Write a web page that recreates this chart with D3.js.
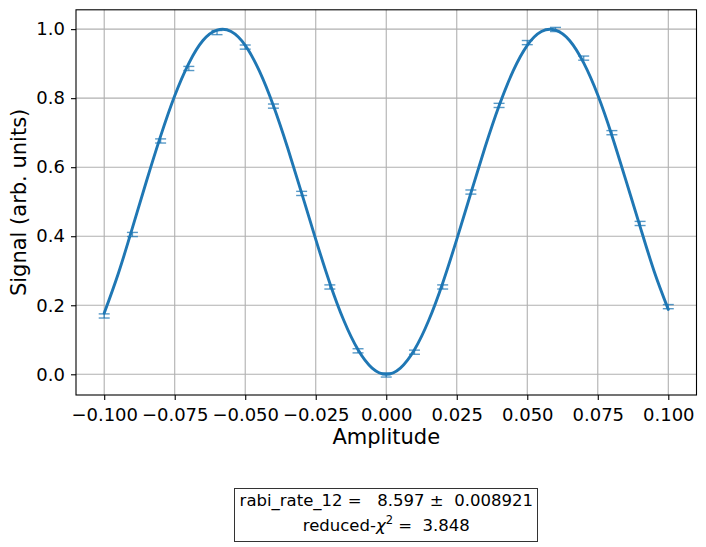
<!DOCTYPE html>
<html>
<head>
<meta charset="utf-8">
<script src="https://cdn.jsdelivr.net/npm/d3@7"></script>
<style>
  html, body { margin: 0; padding: 0; background: #fff; }
  svg { display: block; font-family: "DejaVu Sans", sans-serif; }
  text { white-space: pre; }
</style>
</head>
<body>
<svg id="chart" width="706" height="547"></svg>
<script>
// Measured data points (amplitude, signal, error)
const amplitudes = [-0.10, -0.09, -0.08, -0.07, -0.06, -0.05, -0.04, -0.03, -0.02, -0.01,
                    0.00, 0.01, 0.02, 0.03, 0.04, 0.05, 0.06, 0.07, 0.08, 0.09, 0.10];
const signals = [0.169, 0.405, 0.676, 0.886, 0.990, 0.948, 0.777, 0.524, 0.253, 0.068,
                 -0.002, 0.064, 0.253, 0.528, 0.779, 0.961, 0.999, 0.916, 0.700, 0.437, 0.196];
const errors = [0.006, 0.006, 0.006, 0.006, 0.006, 0.006, 0.006, 0.006, 0.006, 0.006,
                0.006, 0.006, 0.006, 0.006, 0.006, 0.006, 0.006, 0.006, 0.006, 0.006, 0.006];

// Fit curve samples
const fitX = [-0.100, -0.095, -0.090, -0.085, -0.080, -0.075, -0.070, -0.065, -0.060, -0.055,
              -0.050, -0.045, -0.040, -0.035, -0.030, -0.025, -0.020, -0.015, -0.010, -0.005,
              0.000, 0.005, 0.010, 0.015, 0.020, 0.025, 0.030, 0.035, 0.040, 0.045,
              0.050, 0.055, 0.060, 0.065, 0.070, 0.075, 0.080, 0.085, 0.090, 0.095, 0.100];
const fitY = [0.177, 0.292, 0.424, 0.560, 0.690, 0.807, 0.901, 0.967, 0.997, 0.993,
              0.953, 0.879, 0.778, 0.657, 0.525, 0.391, 0.264, 0.155, 0.071, 0.018,
              0.000, 0.018, 0.071, 0.155, 0.264, 0.391, 0.525, 0.657, 0.778, 0.879,
              0.953, 0.993, 0.997, 0.967, 0.902, 0.809, 0.692, 0.561, 0.428, 0.298, 0.188];

const xTicks = [-0.100, -0.075, -0.050, -0.025, 0.000, 0.025, 0.050, 0.075, 0.100];
const yTicks = [0.0, 0.2, 0.4, 0.6, 0.8, 1.0];

const xLabel = "Amplitude";
const yLabel = "Signal (arb. units)";
const fitLine1 = "rabi_rate_12 =   8.597 \u00B1  0.008921";

const blue = "#1f77b4";
const tickFont = 18;
const svg = d3.select("#chart");

const x = d3.scaleLinear().domain([-0.11, 0.11]).range([76, 696.5]);
const y = d3.scaleLinear().domain([-0.06, 1.056]).range([395, 9.8]);

const fmtX = d => d3.format(".3f")(d);

// grid
const grid = svg.append("g");
grid.selectAll("line.gx").data(xTicks).enter().append("line")
  .attr("x1", d => x(d)).attr("x2", d => x(d))
  .attr("y1", y.range()[0]).attr("y2", y.range()[1])
  .attr("stroke", "#b0b0b0").attr("stroke-width", 1.1);
grid.selectAll("line.gy").data(yTicks).enter().append("line")
  .attr("y1", d => y(d)).attr("y2", d => y(d))
  .attr("x1", x.range()[0]).attr("x2", x.range()[1])
  .attr("stroke", "#b0b0b0").attr("stroke-width", 1.1);

// axes
const xAxis = d3.axisBottom(x).tickValues(xTicks).tickSize(5).tickPadding(5).tickFormat(fmtX);
const yAxis = d3.axisLeft(y).tickValues(yTicks).tickSize(5).tickPadding(6).tickFormat(d3.format(".1f"));

const gx = svg.append("g").attr("transform", `translate(0,${y.range()[0]})`).call(xAxis);
const gy = svg.append("g").attr("transform", `translate(${x.range()[0]},0)`).call(yAxis);
[gx, gy].forEach(g => {
  g.select(".domain").remove();
  g.selectAll(".tick line").attr("stroke", "#000").attr("stroke-width", 1.1);
  g.selectAll(".tick text").attr("fill", "#000").attr("font-size", tickFont)
    .attr("font-family", "DejaVu Sans");
});
gx.selectAll(".tick text").attr("dy", null).attr("y", 25.5);

// frame
svg.append("rect")
  .attr("x", x.range()[0]).attr("y", y.range()[1])
  .attr("width", x.range()[1] - x.range()[0])
  .attr("height", y.range()[0] - y.range()[1])
  .attr("fill", "none").attr("stroke", "#000").attr("stroke-width", 1.1);

// fit curve
const fitData = fitX.map((v, i) => [v, fitY[i]]);
svg.append("path")
  .datum(fitData)
  .attr("fill", "none").attr("stroke", blue).attr("stroke-width", 2.9)
  .attr("stroke-linecap", "round")
  .attr("d", d3.line().x(d => x(d[0])).y(d => y(d[1])).curve(d3.curveNatural));

// error bars
const pts = amplitudes.map((a, i) => ({a, s: signals[i], e: errors[i]}));
const eb = svg.append("g").attr("stroke", blue).attr("stroke-opacity", 0.75).attr("stroke-width", 1.4);
const cap = 5.5;
pts.forEach(p => {
  eb.append("line").attr("x1", x(p.a)).attr("x2", x(p.a))
    .attr("y1", y(p.s - p.e)).attr("y2", y(p.s + p.e));
  eb.append("line").attr("x1", x(p.a) - cap).attr("x2", x(p.a) + cap)
    .attr("y1", y(p.s - p.e)).attr("y2", y(p.s - p.e));
  eb.append("line").attr("x1", x(p.a) - cap).attr("x2", x(p.a) + cap)
    .attr("y1", y(p.s + p.e)).attr("y2", y(p.s + p.e));
});

// axis labels
svg.append("text").attr("x", (x.range()[0] + x.range()[1]) / 2).attr("y", 444)
  .attr("text-anchor", "middle").attr("font-size", 21).text(xLabel);
svg.append("text").attr("transform", `translate(26,${(y.range()[0] + y.range()[1]) / 2}) rotate(-90)`)
  .attr("text-anchor", "middle").attr("font-size", 21).text(yLabel);

// fit info box
const cx = (x.range()[0] + x.range()[1]) / 2;
svg.append("rect").attr("x", 234.5).attr("y", 488.5).attr("width", 303).attr("height", 53)
  .attr("fill", "#fff").attr("stroke", "#333").attr("stroke-width", 1);
svg.append("text").attr("x", cx).attr("y", 506).attr("text-anchor", "middle")
  .attr("font-size", 16.5).text(fitLine1);
const t2 = svg.append("text").attr("x", cx).attr("y", 530.5).attr("text-anchor", "middle")
  .attr("font-size", 16.5);
t2.append("tspan").text("reduced-");
t2.append("tspan").attr("font-style", "italic").text("\u03C7");
t2.append("tspan").attr("font-size", 11.5).attr("dy", -7).text("2");
t2.append("tspan").attr("dy", 7).text(" =  3.848");
</script>
</body>
</html>
